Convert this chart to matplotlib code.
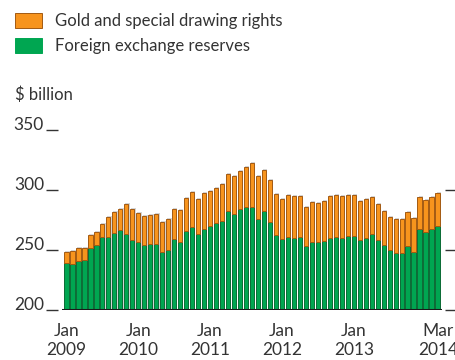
import matplotlib
matplotlib.use('Agg')
import matplotlib.pyplot as plt
from matplotlib.patches import Rectangle
import numpy as np

plt.rcParams.update({'font.family': 'Lato'})

# monthly, Jan 2009 - Mar 2014, $ billion
forex = [238.9, 238.3, 241.1, 241.4, 251.4, 253.9, 260.6, 261.1, 264.4, 266.7, 263.1, 258.6,
         256.4, 253.9, 254.7, 254.7, 248.1, 249.7, 258.9, 256.4, 265.6, 268.9, 263.1, 267.8,
         269.7, 272.2, 274.2, 282.2, 279.7, 283.9, 286.1, 286.1, 275.6, 282.2, 273.1, 262.8,
         258.9, 260.6, 259.7, 260.6, 253.1, 256.4, 256.4, 257.2, 259.7, 260.6, 259.7, 261.4,
         261.4, 258.1, 259.7, 263.1, 258.3, 254.2, 250.3, 247.2, 247.2, 253.6, 248.1, 267.8,
         264.7, 267.2, 269.7]
total = [248.1, 248.9, 251.7, 251.4, 262.2, 264.7, 271.4, 277.2, 281.4, 284.4, 288.1, 283.9,
         281.1, 278.3, 278.9, 279.7, 273.6, 275.6, 284.2, 283.1, 293.1, 298.1, 292.2, 297.2,
         299.4, 301.4, 304.7, 313.6, 311.4, 315.8, 319.2, 322.2, 311.4, 316.4, 308.1, 296.7,
         292.8, 295.8, 294.7, 294.7, 285.8, 289.7, 288.9, 290.6, 294.7, 295.6, 294.7, 295.6,
         295.6, 290.8, 292.2, 293.9, 288.1, 282.2, 277.2, 275.6, 275.6, 281.4, 276.4, 293.9,
         291.4, 293.9, 297.2]
gold = [t - f for t, f in zip(total, forex)]
xlabel_pos = [0, 12, 24, 36, 48, 62]
xlabel_txt = ['Jan\n2009', 'Jan\n2010', 'Jan\n2011', 'Jan\n2012', 'Jan\n2013', 'Mar\n2014']
yticks = [200, 250, 300, 350]

C_GOLD, C_GOLD_E = '#f7941d', '#a35a12'
C_FX, C_FX_E = '#00a651', '#0b6b35'
C_TXT = '#333333'

fig = plt.figure(figsize=(4.55, 3.6), dpi=100)
ax = fig.add_axes([62/455, 1 - 310/360, 380/455, 180/360])
x = np.arange(len(forex))
w = 0.78

# faint shadow behind bars
ax.bar(x + 0.18, np.array(total) + 0.9 - 200, bottom=200, width=w, color='#d4d4d4', lw=0, zorder=1)
ax.bar(x, np.array(forex) - 200, bottom=200, width=w, color=C_FX, edgecolor=C_FX_E, lw=0.7, zorder=2)
ax.bar(x, gold, bottom=forex, width=w, color=C_GOLD, edgecolor=C_GOLD_E, lw=0.7, zorder=2)
ax.axhline(200, color='#1a1a1a', lw=2.2, zorder=3)

ax.set_xlim(-0.7, len(forex) - 0.3)
ax.set_ylim(200, 350)
for s in ax.spines.values():
    s.set_visible(False)
ax.spines['left'].set_position(('outward', 3))
ax.set_yticks(yticks)
ax.tick_params(axis='y', length=9, width=1.0, color='#333333', pad=1, labelsize=12.5, labelcolor=C_TXT)
for lab in ax.get_yticklabels():
    lab.set_va('baseline')
ax.set_xticks(xlabel_pos)
ax.set_xticklabels(xlabel_txt, fontsize=12.5, color=C_TXT, linespacing=1.3)
ax.tick_params(axis='x', length=0, pad=9)

ax2 = ax.twinx()
ax2.set_ylim(200, 350)
for s in ax2.spines.values():
    s.set_visible(False)
ax2.spines['right'].set_position(('outward', 2))
ax2.set_yticks([200, 250, 300])
ax2.set_yticklabels([])
ax2.tick_params(axis='y', length=9, width=1.0, color='#333333')

# legend
fig.patches.append(Rectangle((15/455, 1 - 28/360), 27/455, 15/360, transform=fig.transFigure,
                             facecolor=C_GOLD, edgecolor=C_GOLD_E, lw=0.7))
fig.patches.append(Rectangle((15/455, 1 - 53/360), 27/455, 15/360, transform=fig.transFigure,
                             facecolor=C_FX, edgecolor=C_FX, lw=0.7))
fig.text(55/455, 1 - 21/360, 'Gold and special drawing rights', fontsize=12, color=C_TXT, va='center')
fig.text(55/455, 1 - 46/360, 'Foreign exchange reserves', fontsize=12, color=C_TXT, va='center')
fig.text(15/455, 1 - 95/360, '$ billion', fontsize=12, color=C_TXT, va='center')

fig.savefig('out.png', dpi=100)
